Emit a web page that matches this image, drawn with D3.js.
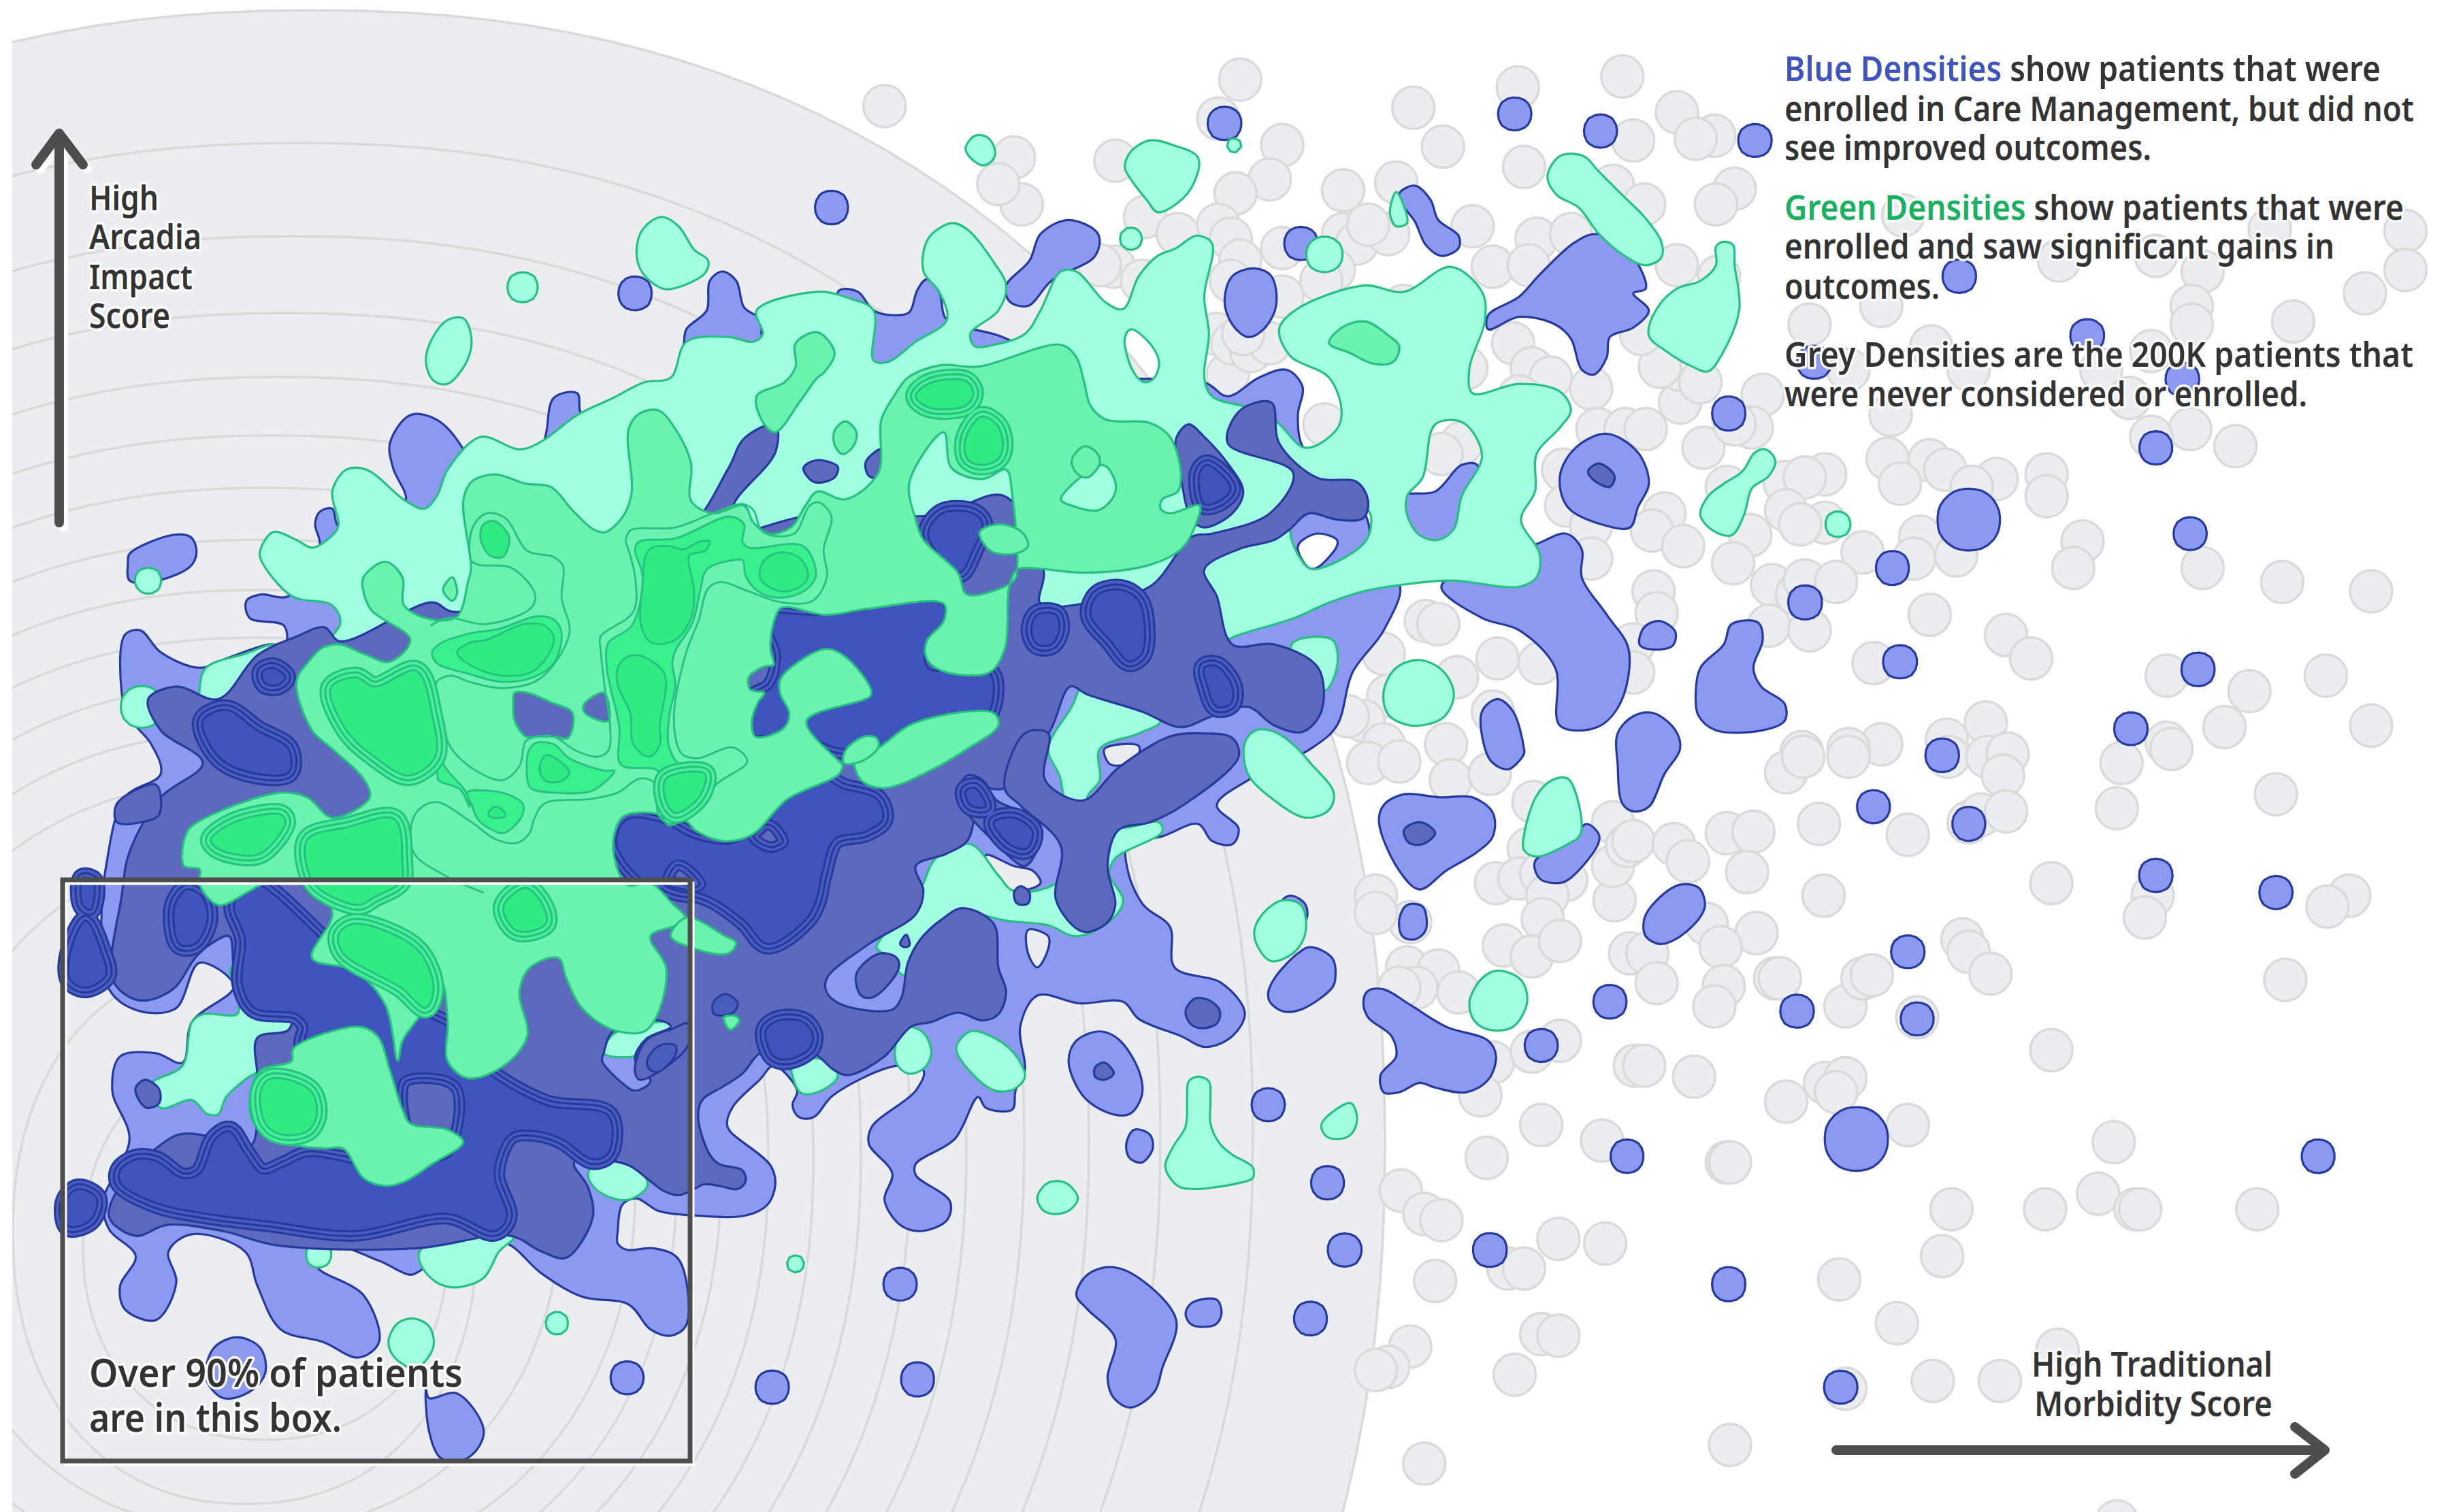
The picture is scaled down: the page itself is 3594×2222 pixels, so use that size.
<!DOCTYPE html>
<html><head><meta charset="utf-8">
<style>html,body{margin:0;padding:0;background:#fff}svg{display:block}
text{font-family:"Noto Sans",sans-serif;font-weight:600;fill:#333;paint-order:stroke;stroke:#fff;stroke-width:7px;stroke-linejoin:round}</style>
<script src="https://cdn.jsdelivr.net/npm/d3@7/dist/d3.min.js"></script></head><body>
<script>
const greyPoints=[[567,68],[650,101],[655,131],[640,118],[715,103],[781,76],[795,51],[822,93],[814,115],[792,124],[861,122],[906,69],[925,94],[973,56],[977,107],[1040,49],[895,117],[734,139],[755,150],[781,144],[789,153],[795,167],[822,159],[861,150],[870,156],[890,150],[877,144],[855,173],[847,180],[944,145],[985,153],[957,171],[980,170],[1007,150],[1034,119],[714,171],[705,170],[732,180],[789,180],[822,190],[900,196],[787,240],[780,214],[790,220],[802,225],[814,220],[797,214],[970,220],[982,236],[940,236],[994,242],[1020,249],[974,254],[1024,275],[1042,275],[1002,301],[1004,324],[1020,337],[1020,358],[849,272],[937,284],[924,291],[914,398],[922,400],[887,419],[934,434],[960,422],[987,425],[890,446],[957,456],[874,462],[864,459],[927,477],[887,477],[877,489],[897,488],[930,500],[955,496],[983,514],[1034,527],[980,544],[959,566],[974,563],[988,560],[1004,564],[992,574],[1035,577],[989,589],[964,606],[982,613],[1000,603],[904,591],[882,574],[882,585],[902,620],[922,622],[908,633],[935,636],[897,633],[957,681],[982,674],[1000,667],[949,702],[988,721],[1027,731],[953,742],[898,763],[913,778],[924,782],[999,794],[1029,797],[920,821],[967,813],[977,813],[904,863],[890,876],[882,878],[988,855],[999,856],[971,881],[913,938],[1034,555],[1043,542],[1045,611],[1048,683],[1075,72],[1099,87],[1087,89],[1047,90],[1112,121],[1100,131],[1054,131],[1075,170],[1102,177],[1220,138],[1206,196],[1160,208],[1238,222],[1320,167],[1382,164],[1455,147],[1542,148],[1542,173],[1516,188],[1412,174],[1405,196],[1405,208],[1470,206],[1379,225],[1262,237],[1347,237],[1185,237],[1212,266],[1365,255],[1404,275],[1379,280],[1433,286],[1130,253],[1123,274],[1092,287],[1077,258],[1055,275],[1077,237],[1064,235],[1090,245],[1052,214],[1112,272],[1170,304],[1144,309],[1107,312],[1157,306],[1210,294],[1237,295],[1247,301],[1218,310],[1280,307],[1264,312],[1312,304],[1312,318],[1145,327],[1170,335],[1154,336],[1122,343],[1067,329],[1059,340],[1079,350],[1111,361],[1194,354],[1231,344],[1227,358],[1254,356],[1335,347],[1329,364],[1412,364],[1463,373],[1520,379],[1136,375],[1152,381],[1157,372],[1177,373],[1060,379],[1062,393],[1047,413],[1047,431],[1134,401],[1160,404],[1237,394],[1286,407],[1302,422],[1201,425],[1389,433],[1442,443],[1491,433],[1273,463],[1248,474],[1426,466],[1520,465],[1389,476],[1206,477],[1185,480],[1155,482],[1145,495],[1156,485],[1185,485],[1249,485],[1274,485],[1287,483],[1284,497],[1360,489],[1392,480],[1357,518],[1459,509],[1047,539],[1073,541],[1082,552],[1107,534],[1124,533],[1120,559],[1166,528],[1223,535],[1262,527],[1270,522],[1286,520],[1169,574],[1315,566],[1380,574],[1375,588],[1506,574],[1492,581],[1094,592],[1126,598],[1103,607],[1056,611],[1062,630],[1105,632],[1099,645],[1138,627],[1141,627],[1183,645],[1194,627],[1200,625],[1258,602],[1262,610],[1276,624],[1229,652],[1465,628],[1315,673],[1054,683],[1086,690],[1145,706],[1170,694],[1183,691],[1177,700],[1223,721],[1107,745],[1109,745],[1355,732],[1251,775],[1311,775],[1345,765],[1369,775],[1372,775],[1447,775],[1245,805],[1179,820],[1216,848],[1319,865],[1239,885],[1282,885],[1183,890],[1109,926],[1357,975]];
// [centre x, centre y, half width, half height] of each grey background contour
const bgRings=[[460,1680,1575,1665],[440,1667,1401,1457],[430,1670,1275,1323],[420,1674,1180,1214],[410,1679,1095,1125],[400,1682,1020,1042],[390,1690,948,973],[385,1695,880,902],[380,1702,815,835],[378,1707,751,770],[375,1710,685,705],[372,1720,623,645],[370,1730,564,585],[365,1750,460,500],[360,1810,341,400],[390,1830,268,286]];
// [x, y, weight]: single patients / tight clusters
const blueDots=[[533,133,1],[407,188,1],[785,79,1],[834,156,1],[971,73,1],[1026,84,1],[1125,90,1],[1256,177,1],[1108,265,1],[1382,287,1],[1404,342,1],[1213,364,1],[1157,386,1],[1218,424,1],[1409,429,1],[1366,467,1],[1245,484,1],[1201,517,1],[1262,528,1],[1382,561,1],[1459,572,1],[1223,610,1],[1032,642,1],[1152,648,1],[1229,653,1],[988,670,1],[1486,741,1],[1043,741,1],[955,801,1],[1108,823,1],[1180,889,1],[862,801,1],[851,758,1],[840,845,1],[813,708,1],[577,823,1],[588,884,1],[495,889,1],[402,883,1],[1338,215,1],[1163,232,1],[1399,243,1],[1262,333,4.6],[1190,730,4.6]];
const greenDots=[[95,372,.8],[91,453,1.4],[204,804,.75],[357,848,.75],[424,823,.56],[510,810,.68],[725,153,.72],[791,93,.62],[849,163,1.1],[335,184,.9],[1178,336,.78],[1065,70,.54]];
// Contour outlines. Each shape: outer ring, then any holes.
const blueLevel1=[
[[[80,407],[90,404],[103,418],[128,428],[145,422],[172,413],[183,413],[182,401],[160,396],[158,385],[167,381],[185,382],[205,350],[202,336],[205,328],[213,326],[217,337],[240,330],[260,321],[252,300],[250,284],[263,266],[280,269],[297,288],[305,310],[345,295],[350,278],[355,255],[370,252],[373,266],[400,275],[430,250],[438,223],[440,211],[453,199],[455,180],[463,174],[472,180],[477,197],[488,205],[489,216],[515,215],[535,195],[538,186],[550,187],[560,199],[575,202],[583,200],[588,186],[594,179],[602,187],[607,205],[640,215],[700,240],[772,245],[787,254],[807,242],[825,237],[835,248],[832,266],[835,286],[850,300],[870,320],[878,340],[870,370],[897,375],[887,404],[867,431],[857,465],[840,480],[800,500],[780,516],[794,531],[790,541],[777,539],[768,528],[745,536],[723,541],[723,558],[733,580],[750,594],[753,620],[783,630],[798,649],[790,664],[773,671],[757,664],[730,653],[720,642],[692,643],[665,638],[654,658],[657,686],[651,699],[649,711],[632,710],[627,703],[612,730],[587,746],[587,753],[609,770],[607,782],[590,789],[577,785],[567,769],[572,752],[557,733],[559,722],[587,699],[592,686],[575,683],[534,702],[523,715],[517,717],[511,715],[508,708],[511,699],[496,683],[487,692],[470,709],[466,720],[468,725],[494,747],[497,759],[492,772],[478,779],[446,779],[422,776],[408,768],[399,772],[396,789],[396,797],[402,801],[419,800],[435,807],[440,849],[430,856],[417,852],[403,836],[373,831],[347,816],[325,797],[300,795],[270,814],[263,817],[243,808],[213,799],[203,811],[233,830],[243,860],[230,870],[207,860],[180,852],[165,824],[157,802],[123,791],[108,802],[113,822],[100,846],[80,839],[77,824],[87,805],[70,788],[66,770],[83,730],[72,699],[77,677],[100,675],[117,681],[123,655],[150,632],[128,617],[113,646],[95,649],[77,642],[68,630],[65,590],[68,555],[80,511],[103,496],[97,477],[82,459],[78,444]],
 [[632,548],[650,555],[662,558],[667,566],[650,571],[640,565]],[[659,596],[672,600],[672,608],[665,620],[659,611]],[[832,350],[844,342],[857,346],[857,350],[844,364],[839,364]],[[708,480],[730,478],[728,487],[712,490]]],
[[[82,361],[83,355],[110,343],[122,344],[126,353],[122,363],[97,373],[83,372]]],
[[[645,183],[660,167],[667,150],[685,141],[704,150],[702,164],[674,180],[659,196],[647,193]]],
[[[785,193],[790,177],[804,172],[815,177],[818,196],[810,211],[800,216],[790,208]]],
[[[897,124],[907,119],[917,128],[922,141],[935,151],[935,159],[924,164],[914,157],[907,142],[899,131]]],
[[[954,202],[974,190],[987,176],[1010,155],[1024,150],[1047,165],[1055,185],[1047,188],[1057,199],[1047,210],[1032,216],[1030,229],[1022,240],[1014,237],[1007,217],[997,208],[974,203],[954,211]]],
[[[1000,305],[1010,287],[1030,278],[1050,290],[1057,310],[1050,325],[1045,338],[1030,337],[1005,325]]],
[[[984,349],[1004,342],[1014,352],[1014,370],[1030,394],[1044,416],[1039,450],[1024,466],[1000,465],[997,428],[974,404],[950,396],[924,376],[950,360]]],
[[[900,318],[920,315],[937,298],[947,298],[945,320],[935,345],[920,350],[900,335]]],
[[[1051,413],[1054,402],[1064,398],[1074,405],[1072,414],[1057,416]]],
[[[1087,446],[1090,428],[1105,413],[1110,400],[1127,399],[1130,410],[1124,428],[1129,440],[1144,451],[1144,462],[1130,468],[1100,468],[1089,459]]],
[[[1047,459],[1060,457],[1074,468],[1077,480],[1067,496],[1057,517],[1047,520],[1040,515],[1037,490],[1037,470]]],
[[[950,456],[960,448],[970,456],[977,480],[977,483],[967,493],[957,489],[952,480]]],
[[[884,527],[887,516],[900,509],[923,511],[944,511],[957,521],[957,536],[947,546],[927,558],[910,570],[897,558]]],
[[[984,552],[987,563],[997,566],[1005,564],[1024,542],[1025,535],[1017,528],[1007,539]]],
[[[897,589],[902,580],[912,581],[914,596],[907,602],[899,600]]],
[[[813,636],[817,627],[832,611],[840,607],[854,614],[856,627],[854,633],[834,647],[822,648],[814,642]]],
[[[874,642],[877,635],[887,634],[904,644],[927,658],[954,667],[959,677],[954,692],[940,700],[920,697],[910,694],[897,700],[887,700],[885,689],[895,677],[892,664],[877,652]]],
[[[685,680],[690,667],[705,661],[717,666],[730,686],[732,702],[724,714],[710,713],[694,702]]],
[[[690,830],[697,817],[712,812],[730,819],[754,846],[745,877],[740,892],[725,902],[714,896],[710,883],[715,858],[697,839]]],
[[[760,842],[764,835],[780,833],[783,842],[779,849],[764,849]]],
[[[722,733],[727,724],[737,727],[739,736],[732,745],[724,742]]],
[[[273,890],[275,896],[293,893],[310,916],[305,930],[293,937],[282,934],[275,917]]],
[[[132,883],[137,864],[152,857],[167,864],[170,880],[160,892],[143,896]]],
[[[822,577],[828,574],[837,580],[837,590],[825,595]]],
[[[1054,589],[1062,577],[1077,567],[1089,569],[1093,580],[1089,589],[1074,602],[1064,605],[1055,600]]],
[[[527,283],[535,281],[545,285],[541,295],[530,296]]]
];
const greenLevel1=[
[[[167,352],[175,341],[190,346],[200,351],[212,344],[217,337],[213,315],[222,301],[235,301],[260,321],[272,326],[280,318],[287,301],[308,280],[333,288],[347,283],[370,266],[393,255],[413,245],[430,242],[440,219],[467,216],[483,219],[489,214],[485,199],[524,187],[544,191],[560,199],[560,231],[569,232],[587,219],[607,205],[602,187],[592,174],[595,153],[610,143],[620,147],[637,168],[645,183],[640,199],[622,214],[625,222],[637,221],[657,214],[667,199],[680,174],[690,174],[709,194],[720,198],[730,177],[742,164],[754,159],[767,151],[777,156],[772,190],[775,214],[772,242],[777,254],[799,261],[817,269],[837,287],[857,275],[860,263],[852,242],[827,228],[820,211],[830,199],[874,183],[900,187],[930,171],[950,187],[952,205],[942,236],[944,252],[974,246],[1000,251],[1007,263],[1000,274],[985,291],[984,315],[975,333],[987,355],[985,370],[974,376],[930,372],[897,375],[874,379],[850,387],[830,396],[794,407],[760,420],[700,400],[660,400],[650,440],[600,480],[400,500],[200,520],[170,520],[157,502],[130,470],[128,441],[132,428],[157,419],[177,413],[192,420],[218,400],[213,388],[187,382],[167,358]],
 [[721,217],[725,211],[737,220],[743,232],[740,242],[734,245],[727,239]],[[902,318],[912,306],[920,272],[938,271],[950,292],[937,318],[932,339],[922,346],[910,343],[902,330]],[[828,336],[839,329],[877,327],[876,346],[847,364],[839,364],[828,346]]],
[[[687,453],[697,434],[710,440],[744,462],[730,470],[705,480],[705,500],[697,512],[715,530],[743,527],[745,533],[715,550],[711,560],[720,577],[712,590],[690,600],[672,593],[645,590],[620,585],[604,590],[590,605],[580,625],[567,612],[562,607],[575,590],[590,570],[600,550],[622,541],[640,561],[650,571],[680,563],[680,500],[672,480]]],
[[[828,413],[844,408],[855,411],[857,428],[849,443],[835,440]]],
[[[97,695],[117,683],[123,655],[130,650],[152,650],[153,642],[148,620],[187,642],[188,652],[175,680],[157,692],[145,703],[140,714],[133,714],[123,705],[103,710]]],
[[[269,802],[270,811],[280,822],[293,825],[310,819],[320,802],[330,792],[300,785]]],
[[[377,752],[383,763],[402,769],[415,760],[410,749],[390,740]]],
[[[432,608],[460,578],[487,608],[513,608],[510,619],[480,639],[457,630],[440,611]]],
[[[387,675],[393,663],[422,655],[440,658],[430,670],[409,677]]],
[[[508,680],[513,700],[524,700],[537,690],[530,680]]],
[[[574,670],[580,658],[592,662],[597,675],[592,685],[582,688],[575,682]]],
[[[613,672],[622,661],[635,664],[650,675],[657,690],[650,698],[638,699],[625,690]]],
[[[798,476],[800,496],[817,513],[837,524],[852,519],[855,508],[840,489],[830,478],[817,469],[805,468]]],
[[[887,443],[895,428],[910,423],[925,430],[932,445],[925,460],[905,465],[890,458]]],
[[[977,535],[985,510],[995,500],[1005,499],[1012,515],[1013,535],[1005,541],[985,549],[977,545]]],
[[[804,597],[810,585],[822,577],[834,580],[837,597],[830,610],[815,616],[807,608]]],
[[[942,642],[950,627],[960,622],[975,628],[979,642],[970,658],[955,660],[945,654]]],
[[[747,748],[752,735],[760,722],[761,705],[762,693],[768,690],[775,693],[776,705],[776,720],[782,733],[790,740],[803,748],[803,755],[795,758],[765,762],[755,760]]],
[[[847,721],[855,712],[866,707],[870,717],[866,727],[857,730],[850,728]]],
[[[665,767],[672,758],[683,758],[691,768],[685,776],[675,778],[668,775]]],
[[[721,107],[725,97],[737,90],[752,93],[768,101],[765,118],[755,130],[742,136],[735,128],[725,115]]],
[[[619,95],[625,87],[633,88],[638,97],[636,103],[630,106],[622,101]]],
[[[992,113],[1000,100],[1015,100],[1025,110],[1040,125],[1055,140],[1065,155],[1065,165],[1055,170],[1040,163],[1025,150],[1012,133],[998,125]]],
[[[1057,215],[1062,198],[1075,185],[1090,180],[1100,170],[1100,158],[1105,155],[1111,157],[1112,170],[1115,198],[1105,225],[1095,238],[1085,235],[1068,225]]],
[[[1090,330],[1095,318],[1105,310],[1117,302],[1125,290],[1132,288],[1138,295],[1134,305],[1123,313],[1118,330],[1110,343],[1098,340]]],
[[[891,137],[895,123],[901,135],[902,143],[895,145]]],
[[[408,162],[412,147],[424,139],[435,145],[445,160],[454,167],[452,175],[435,184],[425,185],[412,175]]],
[[[273,232],[277,217],[287,205],[297,204],[302,215],[300,230],[287,246],[278,244]]],
[[[249,860],[255,848],[265,845],[275,850],[278,862],[272,873],[265,877],[253,870]]]
];
const blueLevel2=[
[[[72,627],[78,574],[83,546],[103,511],[130,489],[103,468],[95,448],[113,440],[140,448],[165,420],[190,408],[208,402],[218,411],[277,386],[290,392],[350,380],[440,340],[467,300],[477,281],[497,272],[497,290],[470,324],[470,340],[520,330],[600,330],[644,318],[669,365],[667,387],[694,387],[737,376],[764,344],[777,342],[814,329],[829,303],[787,284],[795,263],[815,258],[820,284],[844,306],[870,309],[877,321],[874,332],[857,333],[839,329],[827,339],[817,346],[794,352],[772,365],[780,382],[790,413],[817,413],[845,428],[847,456],[835,469],[817,465],[800,453],[777,459],[757,466],[732,456],[697,445],[686,440],[672,470],[657,480],[644,505],[625,505],[625,520],[620,539],[607,547],[587,555],[592,571],[587,586],[557,605],[530,627],[530,636],[540,644],[572,647],[578,639],[582,617],[590,602],[604,589],[617,582],[637,592],[640,620],[645,636],[640,650],[630,654],[614,649],[597,655],[584,658],[567,677],[544,689],[535,686],[522,675],[505,670],[487,675],[476,688],[464,696],[451,704],[448,710],[448,720],[455,740],[461,746],[476,750],[478,757],[473,762],[461,760],[451,759],[445,762],[435,766],[425,763],[417,757],[401,746],[368,745],[377,761],[380,780],[363,806],[347,802],[327,792],[267,800],[177,798],[143,789],[107,785],[87,792],[70,780],[80,755],[100,736],[115,727],[133,728],[160,735],[165,720],[165,690],[165,665],[185,660],[187,645],[160,648],[150,620],[147,600],[135,605],[125,614],[112,633],[95,641],[83,639]],
 [[393,661],[423,654],[430,658],[414,666],[407,679],[417,693],[407,699],[400,695],[386,680],[387,675]]],
[[[407,686],[414,667],[432,659],[441,656],[441,670],[425,685],[410,692]]],
[[[657,470],[644,505],[655,517],[680,542],[677,577],[694,597],[709,592],[715,580],[710,555],[717,532],[737,527],[757,517],[794,485],[790,473],[770,470],[750,472],[717,492],[694,513],[670,500],[672,470]]],
[[[549,624],[564,611],[575,614],[576,621],[560,639],[552,638]]],
[[[650,572],[654,568],[660,572],[659,579],[652,579]]],
[[[577,605],[581,599],[583,606],[580,607]]],
[[[614,508],[620,497],[630,500],[639,513],[659,522],[667,530],[665,544],[657,555],[637,539],[617,517]]],
[[[754,281],[762,272],[772,280],[787,297],[797,315],[790,329],[772,338],[764,333],[757,306]]],
[[[515,300],[523,295],[537,299],[535,306],[522,309]]],
[[[555,296],[565,288],[565,306],[557,305]]],
[[[1018,302],[1025,297],[1035,305],[1032,312],[1022,308]]],
[[[900,532],[908,527],[914,528],[920,534],[912,541],[903,540]]],
[[[760,648],[766,640],[775,641],[782,648],[780,656],[770,659],[763,656]]],
[[[702,684],[708,681],[714,688],[708,692],[702,690]]],
[[[87,697],[93,692],[102,698],[102,707],[94,710],[88,703]]],
[[[75,515],[100,503],[102,522],[90,527],[75,527]]]
];
const blueBands=[
[[[415,679],[423,670],[433,670],[433,676],[422,687],[416,685]]],
[[[457,643],[465,637],[473,643],[470,649],[458,650]]]
];
const blueCores=[
[[[77,750],[87,743],[100,744],[117,755],[128,752],[138,730],[147,725],[157,739],[168,752],[183,747],[197,741],[220,744],[233,746],[225,700],[195,671],[197,658],[190,650],[163,646],[155,630],[157,602],[150,580],[160,565],[215,610],[250,640],[290,660],[310,685],[350,708],[390,715],[390,739],[380,743],[360,730],[343,725],[327,727],[317,752],[325,780],[317,789],[287,778],[227,789],[173,783],[133,778],[100,771],[77,758]],
 [[257,692],[283,689],[295,696],[297,717],[287,742],[265,740]]],
[[[493,395],[524,394],[604,387],[607,398],[594,413],[595,428],[634,431],[637,445],[630,462],[600,470],[575,476],[540,480],[510,470],[482,470],[480,450],[495,440],[500,420]]],
[[[395,540],[402,525],[425,527],[445,537],[470,540],[495,520],[523,497],[540,505],[562,512],[566,525],[555,533],[535,538],[527,560],[523,578],[516,590],[492,605],[477,590],[455,575],[430,568],[410,562]],
 [[425,566],[432,552],[440,553],[452,567],[445,572]],[[478,530],[495,526],[505,540],[495,546],[482,540]]],
[[[699,394],[704,381],[719,378],[730,385],[734,404],[732,419],[724,424],[712,411]]],
[[[661,404],[665,394],[677,394],[679,404],[674,413],[665,413]]],
[[[769,303],[774,298],[789,313],[782,321],[772,323]]],
[[[595,343],[604,329],[624,329],[630,336],[624,352],[615,367]]],
[[[772,428],[780,427],[790,440],[789,451],[780,453],[774,440]]],
[[[168,431],[175,428],[183,434],[178,439],[170,438]]],
[[[130,462],[145,455],[165,468],[185,480],[185,495],[160,495],[140,485]]],
[[[112,580],[120,570],[130,575],[133,590],[125,605],[115,605]]],
[[[45,610],[55,590],[65,610],[68,625],[55,633],[45,628]]],
[[[53,563],[60,565],[58,583],[53,580]]],
[[[42,770],[50,762],[62,768],[58,782],[44,786]]],
[[[491,660],[499,654],[515,655],[521,663],[519,672],[505,679],[496,677],[492,670]]],
[[[637,527],[650,524],[662,533],[658,544],[647,541]]],
[[[619,507],[625,505],[632,517],[622,516]]]
];
const greenLevel2=[
[[[190,437],[197,425],[207,415],[218,413],[233,419],[250,424],[263,410],[238,391],[233,379],[233,370],[247,360],[258,370],[259,388],[277,397],[293,395],[300,373],[302,364],[297,321],[302,309],[317,304],[337,310],[353,312],[367,327],[380,339],[388,341],[400,330],[405,315],[403,275],[410,265],[422,263],[433,275],[443,297],[443,321],[457,329],[477,324],[483,335],[493,342],[507,338],[517,323],[524,315],[542,320],[563,303],[565,269],[573,254],[582,242],[603,234],[627,235],[680,221],[690,229],[695,245],[699,260],[709,269],[737,271],[750,280],[757,303],[755,315],[745,320],[744,326],[750,329],[769,324],[767,335],[757,352],[737,362],[697,367],[660,364],[652,365],[647,376],[644,416],[634,431],[604,430],[594,422],[594,411],[605,398],[605,387],[557,390],[529,394],[505,389],[500,390],[495,403],[494,417],[496,426],[490,427],[480,434],[481,442],[490,444],[486,450],[482,462],[484,472],[491,472],[503,466],[506,457],[500,444],[501,434],[529,416],[542,421],[558,441],[558,446],[517,462],[538,488],[540,490],[538,496],[505,512],[482,535],[464,539],[447,533],[439,526],[429,529],[422,522],[402,522],[397,526],[393,544],[402,567],[417,566],[430,578],[440,590],[417,600],[427,620],[422,649],[413,661],[393,660],[373,646],[363,627],[358,614],[340,620],[333,636],[338,664],[323,683],[300,691],[287,680],[287,655],[283,630],[270,650],[258,667],[255,680],[247,644],[227,622],[200,614],[213,586],[203,567],[170,566],[160,571],[140,580],[128,567],[128,557],[118,555],[120,533],[132,524],[180,508],[197,511],[213,524],[237,511],[233,499],[213,480],[200,468]],
 [[583,309],[605,277],[610,300],[630,307],[645,301],[649,318],[652,365],[650,372],[620,381],[614,367],[592,346],[587,333]],[[680,320],[707,298],[715,309],[714,318],[704,327],[687,324]],
 [[329,452],[330,444],[338,444],[353,450],[367,457],[364,473],[355,472],[344,472],[337,472],[330,462]],[[374,452],[387,444],[390,462],[375,457]]],
[[[485,254],[503,245],[510,235],[510,220],[524,213],[535,226],[528,239],[524,242],[513,257],[497,277],[490,272]]],
[[[160,705],[167,686],[187,680],[188,672],[230,658],[242,664],[250,686],[258,711],[263,720],[287,724],[297,732],[277,746],[260,757],[247,760],[233,755],[220,736],[208,736],[180,732],[163,720]]],
[[[628,341],[640,336],[655,341],[659,350],[650,355],[635,353]]],
[[[687,295],[695,286],[703,290],[705,297],[697,306],[690,303]]],
[[[548,486],[562,480],[587,463],[637,457],[640,465],[620,480],[600,492],[567,505],[552,500]]],
[[[541,489],[542,481],[554,472],[562,473],[563,479],[552,488]]],
[[[440,588],[465,600],[472,604],[467,611],[445,608],[430,600]]],
[[[535,276],[542,270],[549,277],[547,286],[540,291],[535,285]]],
[[[284,378],[290,370],[293,380],[290,385]]],
[[[464,652],[471,651],[474,654],[468,660]]],
[[[852,220],[860,210],[875,206],[890,215],[897,222],[893,232],[880,233],[865,226]]]
];
// Inner contour lines of the green density that do not change the fill
const greenLines=[
[[401,347],[407,369],[406,392],[385,408],[385,416],[388,443],[391,464],[390,481],[383,485],[369,481],[355,472],[344,472],[337,475],[333,491],[322,500],[307,495],[289,479],[281,452],[280,437],[289,433],[301,437],[322,441],[346,435],[365,406],[360,383],[361,363],[355,357],[338,353],[324,332],[312,329],[303,338],[302,359],[307,362],[328,364],[343,381],[340,390],[311,400],[287,396],[276,401]],
[[401,347],[404,340],[433,338],[457,329],[476,323],[483,327],[489,341],[509,342],[519,324],[525,322],[533,331],[528,352],[530,370],[521,385],[501,386],[480,379],[462,373],[454,377],[448,397],[439,421],[432,462],[437,483],[447,486],[470,479],[479,488],[460,502],[439,524],[429,528],[422,522],[420,502],[410,499],[396,508],[379,512],[349,515],[342,526],[340,533],[332,540],[318,538],[301,526],[279,514],[266,522],[265,546],[287,562],[310,572]]
];
const greenBands=[
[[[407,352],[410,347],[433,345],[468,331],[477,336],[476,347],[480,351],[515,350],[523,369],[515,379],[499,383],[486,379],[478,369],[476,359],[470,359],[453,365],[449,378],[444,399],[433,417],[431,425],[433,439],[429,459],[429,479],[437,491],[453,494],[454,502],[437,519],[429,519],[427,500],[420,493],[398,490],[397,466],[389,428],[390,412],[405,401],[412,370]]],
[[[277,418],[283,412],[301,406],[320,403],[344,395],[355,397],[360,406],[355,425],[342,434],[322,437],[301,432],[280,425]]],
[[[299,508],[322,508],[335,515],[335,522],[328,531],[322,534],[307,526],[302,515]]],
[[[262,431],[269,431],[275,443],[279,472],[285,491],[299,508],[301,517],[295,506],[281,500],[280,495],[262,494]]],
[[[339,481],[344,476],[355,477],[365,486],[388,494],[394,494],[388,501],[379,507],[355,508],[340,505],[338,499]]]
];
const greenPlainCores=[
[[[414,356],[418,351],[429,350],[438,352],[449,347],[455,347],[452,353],[442,356],[445,379],[443,396],[433,410],[418,412],[411,401],[412,374]]],
[[[396,428],[402,421],[410,420],[425,430],[427,439],[423,464],[423,477],[416,485],[406,477],[404,457],[396,439]]],
[[[487,369],[490,359],[501,354],[513,358],[518,369],[513,376],[501,379],[490,374]]],
[[[293,418],[301,412],[312,410],[336,400],[349,401],[355,408],[353,417],[342,430],[322,433],[301,426]]],
[[[308,345],[310,336],[317,334],[326,343],[326,350],[322,357],[314,356]]],
[[[313,522],[317,517],[323,520],[324,523],[316,524]]],
[[[346,491],[350,484],[359,488],[365,495],[361,500],[351,501],[347,497]]]
];
const greenCores=[
[[[212,441],[228,434],[240,440],[267,430],[277,458],[279,485],[262,497],[240,485],[222,468]]],
[[[587,254],[595,246],[619,244],[624,252],[619,260],[595,261]]],
[[[619,281],[629,267],[639,272],[643,284],[640,294],[629,298],[620,294]]],
[[[135,538],[150,527],[180,522],[183,527],[167,547],[148,547],[137,542]]],
[[[197,538],[223,530],[253,525],[258,552],[257,565],[240,575],[230,580],[205,570],[198,560]]],
[[[323,580],[337,569],[348,580],[350,592],[333,597],[325,590]]],
[[[217,599],[227,592],[267,608],[278,633],[273,646],[257,633],[220,611]]],
[[[427,499],[452,496],[448,511],[433,521],[427,514]]],
[[[167,700],[172,692],[185,692],[200,700],[203,715],[197,725],[180,727],[170,720]]]
];
const noteLines=[
 {parts:[["Blue Densities","#3f55bd"],[" show patients that were"]]},
 {parts:[["enrolled in Care Management, but did not"]]},
 {parts:[["see improved outcomes."]]},
 {parts:[["Green Densities","#19b05f"],[" show patients that were"]]},
 {parts:[["enrolled and saw significant gains in"]]},
 {parts:[["outcomes."]]},
 {parts:[["Grey Densities are the 200K patients that"]]},
 {parts:[["were never considered or enrolled."]]}];
const noteLayout=[[119,876],[177.5,925],[235,539],[323,910],[380,808],[438.5,228],[539,924],[596.5,768]];
const yAxisWords=[["High",309,102],["Arcadia",366,165],["Impact",424.5,152],["Score",482,119]];
const boxWords=[["Over 90% of patients",2038,549],["are in this box.",2104,371]];
const xAxisWords=[["High Traditional",2023,354],["Morbidity Score",2081,350]];

const W=3594,H=2222;
const x=d3.scaleLinear().domain([0,1568]).range([0,W]);
const y=d3.scaleLinear().domain([0,969]).range([0,H]);
const svg=d3.select("body").append("svg").attr("width",W).attr("height",H).attr("viewBox",[0,0,W,H]);
svg.append("defs").append("clipPath").attr("id","bgclip").append("rect").attr("x",18).attr("y",0).attr("width",W).attr("height",H);

const sq=2.2, ringLine=d3.line().curve(d3.curveLinearClosed);
const ringPath=r=>ringLine(d3.range(0,360,2).map(a=>{const t=a*Math.PI/180,c=Math.cos(t),s=Math.sin(t);
  return [r[0]+r[2]*Math.sign(c)*Math.pow(Math.abs(c),2/sq), r[1]+r[3]*Math.sign(s)*Math.pow(Math.abs(s),2/sq)];}));
svg.append("g").attr("clip-path","url(#bgclip)").selectAll("path").data(bgRings).join("path")
  .attr("d",ringPath).attr("fill",(d,i)=>i?"none":"#ebedf0").attr("stroke","#d9d9d9").attr("stroke-width",3.5);

svg.append("g").selectAll("circle").data(greyPoints).join("circle")
  .attr("cx",d=>x(d[0])).attr("cy",d=>y(d[1])).attr("r",31)
  .attr("fill","#ebedf0").attr("stroke","#dadada").attr("stroke-width",3.5);

const outline=d3.line().x(d=>x(d[0])).y(d=>y(d[1])).curve(d3.curveCatmullRomClosed.alpha(0.5));
const openLine=d3.line().x(d=>x(d[0])).y(d=>y(d[1])).curve(d3.curveCatmullRom.alpha(0.5));
const shapeD=s=>s.map(r=>outline(r)).join("");
function fillLevel(data,fill,stroke,w=3.2){
  svg.append("g").selectAll("path").data(data).join("path").attr("d",shapeD)
    .attr("fill",fill).attr("fill-rule","evenodd").attr("stroke",stroke).attr("stroke-width",w).attr("stroke-linejoin","round");
}
function coreLevel(data,core,band,line,d1,d2){
  const g=svg.append("g");
  [[2*d2+3,line],[2*d2-3,band],[2*d1+3,line],[2*d1-3,band]].forEach(([w,c])=>{
    g.append("g").selectAll("path").data(data).join("path").attr("d",shapeD).attr("fill",c).attr("fill-rule","evenodd")
      .attr("stroke",c).attr("stroke-width",w).attr("stroke-linejoin","round");});
  g.append("g").selectAll("path").data(data).join("path").attr("d",shapeD).attr("fill",core).attr("fill-rule","evenodd")
    .attr("stroke",line).attr("stroke-width",3).attr("stroke-linejoin","round");
}
function dots(data,fill,stroke){
  const geo=d3.contourDensity().x(d=>x(d[0])).y(d=>y(d[1])).weight(d=>d[2]).size([W,H]).cellSize(8).bandwidth(18).thresholds([1.75e-4])(data);
  svg.append("g").selectAll("path").data(geo).join("path").attr("d",d3.geoPath()).attr("fill",fill).attr("stroke",stroke).attr("stroke-width",3.2).attr("stroke-linejoin","round");
}
const BL="#26399c",GL="#27bf82";
fillLevel(blueLevel1,"#8c99f0",BL); dots(blueDots,"#8c99f0",BL);
fillLevel(greenLevel1,"#9fffe0",GL); dots(greenDots,"#9fffe0",GL);
fillLevel(blueLevel2,"#5c69bd",BL);
fillLevel(blueBands,"#4a5cbd",BL,3);
coreLevel(blueCores,"#3f55bd","#4a5cbd",BL,7,14);
fillLevel(greenLevel2,"#6bf2ae",GL);
svg.append("g").selectAll("path").data(greenLines).join("path").attr("d",openLine).attr("fill","none").attr("stroke",GL).attr("stroke-width",2.8).attr("stroke-linejoin","round");
fillLevel(greenBands,"#38f08c",GL,2.8);
fillLevel(greenPlainCores,"#2eec82",GL,2.8);
coreLevel(greenCores,"#2eec82","#45f096",GL,7,14);

// annotations
const ARROW="#4d4d4d";
const poly=d3.line().x(d=>d[0]).y(d=>d[1]);
function arrow(paths,dx,dy){
  paths.forEach(p=>svg.append("path").attr("d",poly(p)).attr("fill","none").attr("stroke","#fff").attr("stroke-width",14).attr("stroke-linecap","round").attr("stroke-linejoin","round").attr("transform",`translate(${dx},${dy})`));
  paths.forEach(p=>svg.append("path").attr("d",poly(p)).attr("fill","none").attr("stroke",ARROW).attr("stroke-width",14).attr("stroke-linecap","round").attr("stroke-linejoin","round"));
}
arrow([[[87,768],[87,200]],[[53,242],[87,196],[122,242]]],6,6);
arrow([[[2698,2131],[3412,2131]],[[3372,2097],[3416,2131],[3372,2166]]],0,0);
svg.append("rect").attr("x",96).attr("y",1298).attr("width",922).attr("height",854).attr("fill","none").attr("stroke","#fff").attr("stroke-width",5);
svg.append("rect").attr("x",92).attr("y",1293).attr("width",922).attr("height",854).attr("fill","none").attr("stroke",ARROW).attr("stroke-width",7);

function label(list,xp,size,anchor){
  svg.append("g").selectAll("text").data(list).join("text").attr("x",xp).attr("y",d=>d[1]).attr("font-size",size)
    .attr("text-anchor",anchor).attr("textLength",d=>d[2]).attr("lengthAdjust","spacingAndGlyphs").text(d=>d[0]);
}
label(yAxisWords,131,50,"start");
label(boxWords,131,58,"start");
label(xAxisWords,3339,50,"end");
const note=svg.append("g").selectAll("text").data(noteLines).join("text").attr("x",2622).attr("y",(d,i)=>noteLayout[i][0]).attr("font-size",50)
  .attr("textLength",(d,i)=>noteLayout[i][1]).attr("lengthAdjust","spacingAndGlyphs");
note.selectAll("tspan").data(d=>d.parts).join("tspan").text(d=>d[0]).style("fill",d=>d[1]||null);
</script></body></html>
